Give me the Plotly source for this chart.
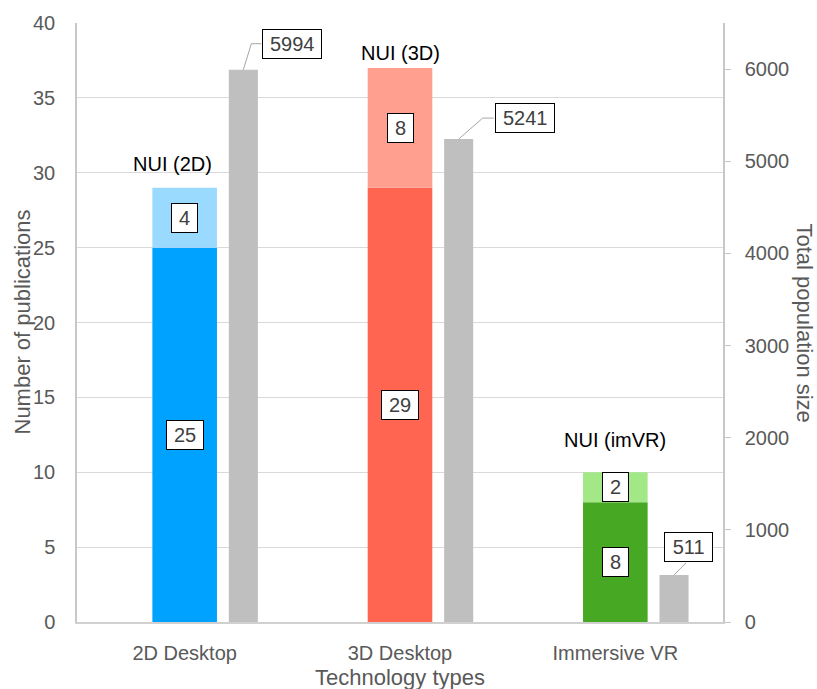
import plotly.graph_objects as go

# ---- data -------------------------------------------------------------
categories = ["2D Desktop", "3D Desktop", "Immersive VR"]
nui_labels = ["NUI (2D)", "NUI (3D)", "NUI (imVR)"]
base_pubs = [25, 29, 8]          # publications without NUI
nui_pubs = [4, 8, 2]             # additional NUI publications
population = [5994, 5241, 511]   # total population size

# ---- styling ----------------------------------------------------------
dark_colors = ["#00A2FF", "#FF6550", "#47A823"]
light_colors = ["#9BDAFF", "#FF9F8F", "#A3E886"]
gray_color = "#BFBFBF"
text_gray = "#595959"
box_text = "#404040"
font_family = "Liberation Sans, Arial, sans-serif"

xs = list(range(len(categories)))
stack_width, stack_offset = 0.30, -0.15
pop_width, pop_offset = 0.135, 0.205
pop_center = pop_offset + pop_width / 2

# plot area geometry (pixels) used for pixel-offset leader lines
margin = dict(l=77, r=94, t=21, b=67)
plot_w = 817 - margin["l"] - margin["r"]
plot_h = 689 - margin["t"] - margin["b"]
x_range = [-0.5, 2.5]
y2_range = [0, 6500]
px_per_x = plot_w / (x_range[1] - x_range[0])
px_per_y2 = plot_h / (y2_range[1] - y2_range[0])

# label placement offsets in pixels (dx right, dy up)
nui_shift = [(-12, 24), (0, 15), (0, 32)]
pop_box_shift = [(49, 25.5), (66, 21.5), (14, 28)]
pop_leader = [[(0, 0), (8, 26), (18, 26)],
              [(0, 0), (24, 21), (35, 21)],
              [(0, 0), (12, 12)]]

fig = go.Figure()

fig.add_trace(go.Bar(
    x=xs, y=base_pubs, width=stack_width, offset=stack_offset,
    marker=dict(color=dark_colors, line=dict(width=0)),
    yaxis="y", hoverinfo="skip", showlegend=False))
fig.add_trace(go.Bar(
    x=xs, y=nui_pubs, base=base_pubs, width=stack_width, offset=stack_offset,
    marker=dict(color=light_colors, line=dict(width=0)),
    yaxis="y", hoverinfo="skip", showlegend=False))
fig.add_trace(go.Bar(
    x=xs, y=population, width=pop_width, offset=pop_offset,
    marker=dict(color=gray_color, line=dict(width=0)),
    yaxis="y2", hoverinfo="skip", showlegend=False))

# leader lines from population bars to their value boxes
for i, pts in enumerate(pop_leader):
    lx = [xs[i] + pop_center + dx / px_per_x for dx, dy in pts]
    ly = [population[i] + dy / px_per_y2 for dx, dy in pts]
    fig.add_trace(go.Scatter(
        x=lx, y=ly, mode="lines", yaxis="y2",
        line=dict(color="#A6A6A6", width=1),
        hoverinfo="skip", showlegend=False, cliponaxis=False))

annotations = []


def box_label(text, x, y, yref, xshift=0, yshift=0):
    return dict(
        text=str(text), x=x, y=y, xref="x", yref=yref,
        xshift=xshift, yshift=yshift, showarrow=False,
        font=dict(size=20, color=box_text, family=font_family),
        bgcolor="white", bordercolor="black", borderwidth=1,
        borderpad=2, width=11.1 * len(str(text)) + 10, height=24,
        xanchor="center", yanchor="middle")


for i in xs:
    annotations.append(box_label(base_pubs[i], xs[i], base_pubs[i] / 2, "y"))
    annotations.append(box_label(nui_pubs[i], xs[i],
                                 base_pubs[i] + nui_pubs[i] / 2, "y"))
    sx, sy = nui_shift[i]
    annotations.append(dict(
        text=nui_labels[i], x=xs[i], y=base_pubs[i] + nui_pubs[i],
        xref="x", yref="y", xshift=sx, yshift=sy, showarrow=False,
        font=dict(size=20, color="black", family=font_family),
        xanchor="center", yanchor="middle"))
    bx, by = pop_box_shift[i]
    annotations.append(box_label(population[i], xs[i] + pop_center,
                                 population[i], "y2", bx, by))

# axis titles
title_font = dict(size=22, color=text_gray, family=font_family)
annotations += [
    dict(text="Number of publications", xref="paper", yref="paper",
         x=0, y=0.5, xshift=-55, textangle=-90, showarrow=False,
         font=title_font, xanchor="center", yanchor="middle"),
    dict(text="Total population size", xref="paper", yref="paper",
         x=1, y=0.5, xshift=81, textangle=90, showarrow=False,
         font=title_font, xanchor="center", yanchor="middle"),
    dict(text="Technology types", xref="paper", yref="paper",
         x=0.5, y=0, yshift=-55, showarrow=False,
         font=title_font, xanchor="center", yanchor="middle"),
]

tick_font = dict(size=20, color=text_gray, family=font_family)

fig.update_layout(
    width=817, height=689, margin=margin,
    paper_bgcolor="white", plot_bgcolor="white",
    barmode="overlay", showlegend=False,
    font=dict(family=font_family),
    xaxis=dict(range=x_range, tickvals=xs, ticktext=categories,
               tickfont=tick_font, showgrid=False, zeroline=False,
               showline=True, linecolor="#D0D0D0", linewidth=1.5,
               ticks="", ticklabelstandoff=12),
    yaxis=dict(range=[0, 40], dtick=5, tickfont=tick_font,
               showgrid=True, gridcolor="#D9D9D9", gridwidth=1,
               zeroline=False, showline=True, linecolor="#C8C8C8",
               linewidth=1.5, ticks="", ticklabelstandoff=16),
    yaxis2=dict(range=y2_range, dtick=1000, overlaying="y", side="right",
                tickfont=tick_font, showgrid=False, zeroline=False,
                showline=True, linecolor="#C8C8C8", linewidth=1.5,
                ticks="outside", ticklen=6, tickcolor="#C8C8C8",
                tickwidth=1, ticklabelstandoff=10),
    annotations=annotations,
)

fig.write_html("out.html")
